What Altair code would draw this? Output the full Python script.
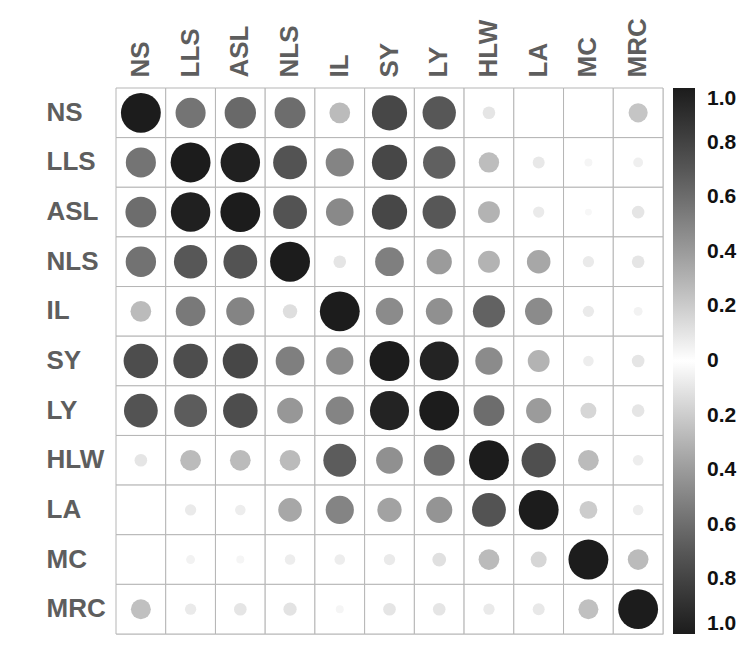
import altair as alt
import pandas as pd

variables = ["NS", "LLS", "ASL", "NLS", "IL", "SY", "LY", "HLW", "LA", "MC", "MRC"]

r_NS  = [1.00, 0.57, 0.62, 0.60, 0.27, 0.78, 0.70, 0.10, 0.00, 0.00, 0.23]
r_LLS = [0.57, 1.00, 0.98, 0.72, 0.50, 0.78, 0.66, 0.26, 0.09, 0.04, 0.06]
r_ASL = [0.60, 0.98, 1.00, 0.72, 0.48, 0.78, 0.70, 0.30, 0.08, 0.03, 0.10]
r_NLS = [0.58, 0.70, 0.72, 1.00, 0.10, 0.52, 0.40, 0.30, 0.35, 0.08, 0.10]
r_IL  = [0.27, 0.55, 0.50, 0.13, 1.00, 0.47, 0.45, 0.65, 0.47, 0.08, 0.05]
r_SY  = [0.75, 0.75, 0.78, 0.52, 0.47, 1.00, 0.96, 0.47, 0.30, 0.07, 0.10]
r_LY  = [0.72, 0.68, 0.75, 0.42, 0.50, 0.96, 1.00, 0.60, 0.40, 0.16, 0.10]
r_HLW = [0.10, 0.27, 0.27, 0.27, 0.68, 0.45, 0.60, 1.00, 0.74, 0.27, 0.07]
r_LA  = [0.00, 0.08, 0.07, 0.35, 0.50, 0.37, 0.43, 0.72, 1.00, 0.20, 0.07]
r_MC  = [0.00, 0.05, 0.04, 0.07, 0.07, 0.08, 0.12, 0.27, 0.16, 1.00, 0.27]
r_MRC = [0.25, 0.08, 0.10, 0.11, 0.04, 0.10, 0.10, 0.08, 0.09, 0.25, 1.00]

legend_ticks = [1.0, 0.8, 0.6, 0.4, 0.2, 0.0, -0.2, -0.4, -0.6, -0.8, -1.0]

rows = [r_NS, r_LLS, r_ASL, r_NLS, r_IL, r_SY, r_LY, r_HLW, r_LA, r_MC, r_MRC]
records = []
for rv, vals in zip(variables, rows):
    for cv, v in zip(variables, vals):
        records.append({"row": rv, "col": cv, "r": v, "absr": abs(v)})
df = pd.DataFrame(records)

FONT = "Liberation Sans"
LABEL_GRAY = "#5e5e5e"

x_enc = alt.X("col:N", sort=variables,
              scale=alt.Scale(paddingInner=0, paddingOuter=0),
              axis=alt.Axis(orient="top", labelAngle=-90, labelFontSize=26,
                            labelFontWeight="bold", labelColor=LABEL_GRAY,
                            labelFont=FONT, domain=False, ticks=False,
                            labelPadding=11, title=None))
y_enc = alt.Y("row:N", sort=variables,
              scale=alt.Scale(paddingInner=0, paddingOuter=0),
              axis=alt.Axis(labelAlign="left", labelFontSize=26,
                            labelFontWeight="bold", labelColor=LABEL_GRAY,
                            labelFont=FONT, domain=False, ticks=False,
                            labelPadding=70, title=None))

cells = alt.Chart(df).mark_rect(fill="white", stroke="#b5b5b5", strokeWidth=1).encode(
    x=x_enc, y=y_enc
)

circles = alt.Chart(df).mark_circle(opacity=1).encode(
    x=x_enc, y=y_enc,
    size=alt.Size("absr:Q", scale=alt.Scale(domain=[0, 1], range=[0, 1590]), legend=None),
    color=alt.Color("r:Q",
                    scale=alt.Scale(domain=[-1, 0, 1], range=["#1c1c1c", "#ffffff", "#1c1c1c"]),
                    legend=alt.Legend(title=None, values=legend_ticks, gradientLength=546,
                                      gradientThickness=22, labelFontSize=21,
                                      labelFontWeight="bold", labelFont=FONT,
                                      labelColor="#111111", labelOverlap=False,
                                      labelOffset=12, offset=10, gradientStrokeWidth=0,
                                      labelExpr="datum.value == 0 ? '0' : format(abs(datum.value), '.1f')")),
)

chart = alt.layer(cells, circles).properties(
    width=547, height=546,
    padding={"left": 38, "top": 9, "right": 0, "bottom": 0},
).configure_view(stroke=None).configure(background="white")

chart.save("out.html", embed_options={"renderer": "svg", "actions": False})
